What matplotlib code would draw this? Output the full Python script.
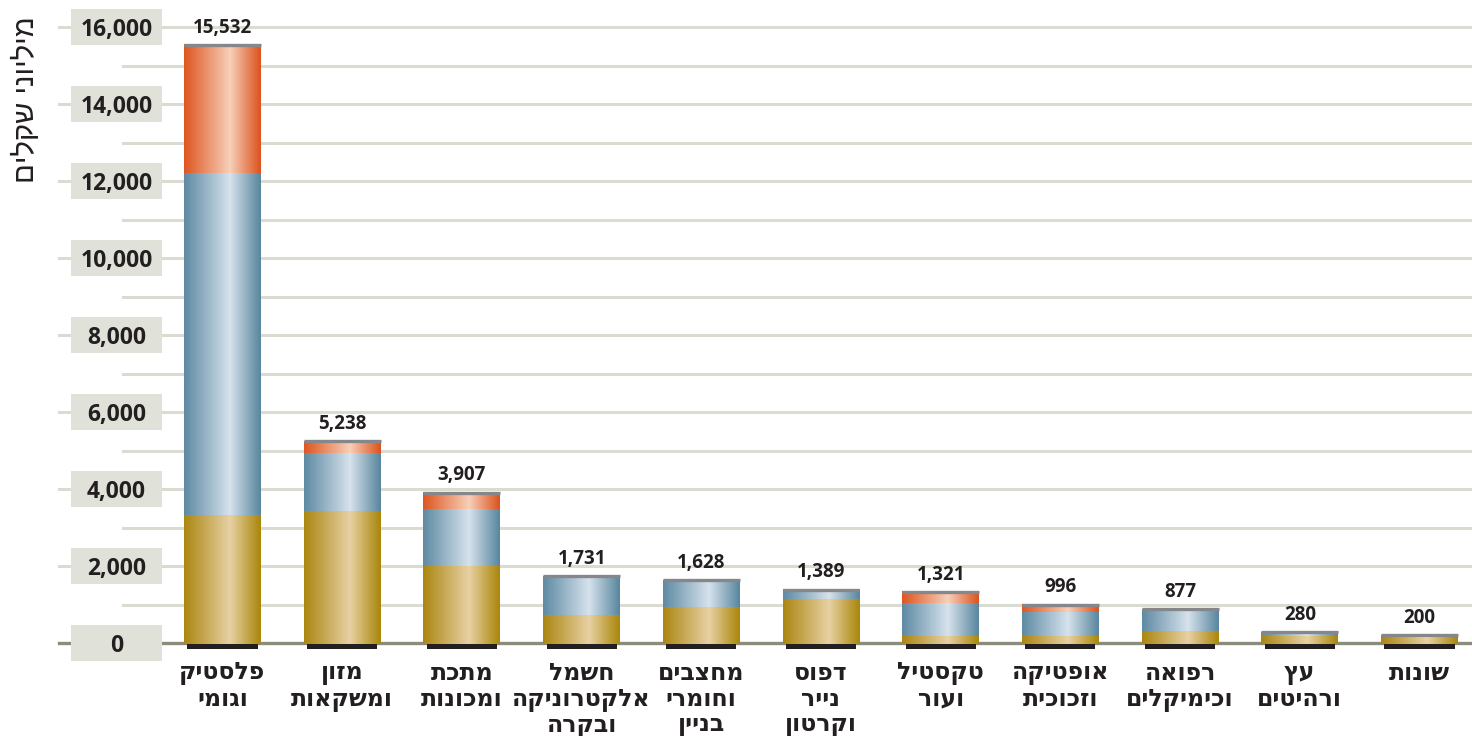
import numpy as np
import matplotlib
matplotlib.use('Agg')
import matplotlib.pyplot as plt
from matplotlib.colors import LinearSegmentedColormap
from matplotlib.patches import Rectangle
import matplotlib.transforms as mtransforms

# ענפים (סדר לוגי, מימין לשמאל)
categories = ['פלסטיק\nוגומי', 'מזון\nומשקאות', 'מתכת\nומכונות',
              'חשמל\nאלקטרוניקה\nובקרה', 'מחצבים\nוחומרי\nבניין',
              'דפוס\nנייר\nוקרטון', 'טקסטיל\nועור', 'אופטיקה\nוזכוכית',
              'רפואה\nוכימיקלים', 'עץ\nורהיטים', 'שונות']
totals = [15532, 5238, 3907, 1731, 1628, 1389, 1321, 996, 877, 280, 200]
gold = [3325, 3430, 2000, 727, 943, 1143, 190, 182, 320, 190, 140]
blue = [8880, 1505, 1475, 1004, 685, 246, 840, 631, 557, 90, 60]
orange = [3327, 303, 432, 0, 0, 0, 291, 183, 0, 0, 0]
yticks = [0, 2000, 4000, 6000, 8000, 10000, 12000, 14000, 16000]
ylabel = 'מיליוני שקלים'


def heb(s):
    # matplotlib draws left to right, so flip every line
    return '\n'.join(line[::-1] for line in s.split('\n'))


def grad_cmap(dark_l, light, dark_r):
    return LinearSegmentedColormap.from_list(
        'g', [(0, dark_l), (0.6, light), (1, dark_r)])


gold_cm = grad_cmap('#ac8713', '#e7d1a3', '#ab870c')
blue_cm = grad_cmap('#5f8ba4', '#d6e2ec', '#5a879f')
orange_cm = grad_cmap('#de5722', '#f7cfb8', '#dc5420')

fig = plt.figure(figsize=(14.72, 7.36), dpi=100)
ax = fig.add_axes([0, 0, 1, 1])
ax.set_axis_off()

# pixel layout: bar 0 centre at 222.5px, step 119.7px; y=0 at 643px, 0.0385 px per unit
step = 119.7
scale = 0.0385
xlim = (-222.5 / step, (1472 - 222.5) / step)
ylim = (-(736 - 643) / scale, 643 / scale)

x = np.arange(len(categories))
w = 0.643
grad = np.linspace(0, 1, 64).reshape(1, -1)

# gridlines
for v in range(1000, 17000, 1000):
    xmin = 59 / 1472 if v % 2000 == 0 else 123 / 1472
    ax.axhline(v, xmin=xmin, xmax=1, color='#dbdcd1', lw=2.2, zorder=1)
ax.axhline(0, xmin=59 / 1472, xmax=1, color='#8b8c79', lw=2.4, zorder=2)

# tick label boxes
trans = mtransforms.blended_transform_factory(ax.transAxes, ax.transData)
for v in yticks:
    ax.add_patch(Rectangle((71 / 1472, v - 470), 91 / 1472, 940,
                           transform=trans, facecolor='#e0e1d9',
                           edgecolor='none', zorder=2))
    ax.text(116.5 / 1472, v, f'{v:,}', transform=trans, ha='center',
            va='center_baseline', fontsize=16.5, fontweight='bold',
            family=['Open Sans', 'DejaVu Sans'], color='#231f20', zorder=3)

# stacked bars with gradients
for i in range(len(categories)):
    segs = [(gold_cm, gold[i]), (blue_cm, blue[i]), (orange_cm, orange[i])]
    base = 0
    for cm, h in segs:
        if h <= 0:
            continue
        y0 = base if base > 0 else -30
        ax.imshow(grad, extent=(x[i] - w / 2, x[i] + w / 2, y0, base + h),
                  cmap=cm, aspect='auto', interpolation='bilinear', zorder=3)
        base += h
    ax.hlines(totals[i], x[i] - w / 2, x[i] + w / 2, color='#86878a',
              lw=2.4, zorder=4)
    ax.text(x[i], totals[i] + 190, f'{totals[i]:,}', ha='center',
            va='bottom', fontsize=13.5, fontweight='bold',
            family=['Open Sans', 'DejaVu Sans'], color='#231f20', zorder=5)
    ax.text(x[i], -470, heb(categories[i]), ha='center', va='top',
            fontsize=17, fontweight='bold', linespacing=1.08,
            family=['Liberation Sans Narrow', 'DejaVu Sans'],
            color='#231f20', zorder=5)

# black shadows under bars
ax.bar(x, 130, bottom=-160, width=0.585, color='#231f20', zorder=2)

fig.text(26 / 1472, 1 - 100 / 736, heb(ylabel), rotation=90, ha='center',
         va='center', fontsize=21, family=['Liberation Sans', 'DejaVu Sans'],
         color='#231f20')

ax.set_xlim(*xlim)
ax.set_ylim(*ylim)

fig.savefig('out.png', dpi=100)
